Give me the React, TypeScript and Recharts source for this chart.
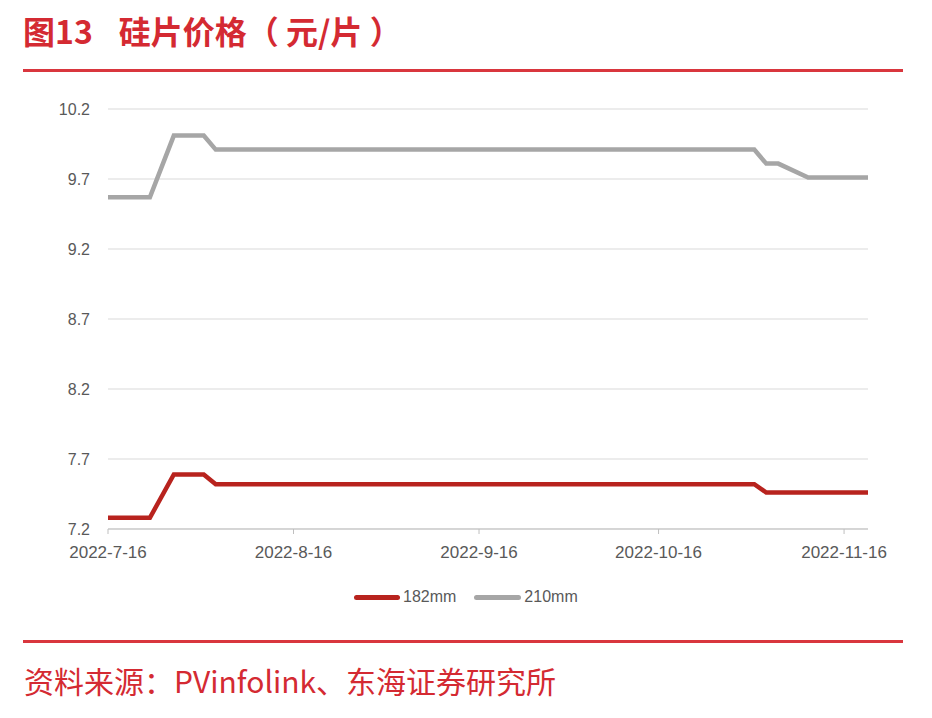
import React from "react";
import { LineChart, Line, XAxis, YAxis, CartesianGrid } from "recharts";

// 硅片价格（元/片），PVinfolink
const dates = [
  "2022-07-16",
  "2022-07-23",
  "2022-07-27",
  "2022-08-01",
  "2022-08-03",
  "2022-11-01",
  "2022-11-03",
  "2022-11-05",
  "2022-11-10",
  "2022-11-20",
];
const price182 = [7.28, 7.28, 7.59, 7.59, 7.52, 7.52, 7.46, 7.46, 7.46, 7.46];
const price210 = [9.57, 9.57, 10.01, 10.01, 9.91, 9.91, 9.81, 9.81, 9.71, 9.71];

const xTickDates = ["2022-07-16", "2022-08-16", "2022-09-16", "2022-10-16", "2022-11-16"];
const xTickLabels = ["2022-7-16", "2022-8-16", "2022-9-16", "2022-10-16", "2022-11-16"];
const yTicks = [7.2, 7.7, 8.2, 8.7, 9.2, 9.7, 10.2];

const RED = "#B8231E";
const GRAY = "#A6A6A6";
const TITLE_RED = "#D42A32";

const DAY = 24 * 3600 * 1000;
const start = Date.parse(dates[0]);
const toDay = (d: string) => Math.round((Date.parse(d) - start) / DAY);

const data = dates.map((d, i) => ({
  day: toDay(d),
  s182: price182[i],
  s210: price210[i],
}));

const xTicks = xTickDates.map(toDay);
const endDay = toDay(dates[dates.length - 1]);

export default function App() {
  const tickFont = { fontFamily: "'Liberation Sans', Arial, sans-serif", fill: "#595959" };
  return (
    <div
      style={{
        position: "absolute",
        left: 0,
        top: 0,
        width: 932,
        height: 718,
        background: "#fff",
        fontFamily: "'Noto Sans CJK SC', sans-serif",
      }}
    >
      <div
        style={{
          position: "absolute",
          left: 23,
          top: 7,
          fontSize: 32,
          fontWeight: 700,
          color: TITLE_RED,
          whiteSpace: "nowrap",
          lineHeight: "46px",
        }}
      >
        <span>图13</span>
        <span style={{ marginLeft: 26 }}>硅片价格（ 元/片 ）</span>
      </div>
      <div style={{ position: "absolute", left: 23, top: 69, width: 880, height: 3, background: "#D9363E" }} />

      <div style={{ position: "absolute", left: 0, top: 0 }}>
        <LineChart
          width={932}
          height={620}
          data={data}
          margin={{ top: 109, right: 64, bottom: 51, left: 28 }}
        >
          <CartesianGrid vertical={false} stroke="#D9D9D9" strokeWidth={1} />
          <XAxis
            dataKey="day"
            type="number"
            domain={[0, endDay]}
            ticks={xTicks}
            tickFormatter={(v: number) => xTickLabels[xTicks.indexOf(v)] ?? ""}
            height={40}
            stroke="#BFBFBF"
            tickSize={5}
            tickMargin={12}
            tick={{ ...tickFont, fontSize: 17 }}
            interval={0}
          />
          <YAxis
            type="number"
            domain={[7.2, 10.2]}
            ticks={yTicks}
            tickFormatter={(v: number) => v.toFixed(1)}
            width={80}
            axisLine={false}
            tickLine={false}
            tickSize={0}
            tickMargin={18}
            tick={{ ...tickFont, fontSize: 16 }}
          />
          <Line
            type="linear"
            dataKey="s182"
            name="182mm"
            stroke={RED}
            strokeWidth={4.5}
            dot={false}
            isAnimationActive={false}
          />
          <Line
            type="linear"
            dataKey="s210"
            name="210mm"
            stroke={GRAY}
            strokeWidth={4.5}
            dot={false}
            isAnimationActive={false}
          />
        </LineChart>
      </div>

      {/* legend */}
      <div
        style={{
          position: "absolute",
          top: 586,
          left: 354,
          display: "flex",
          alignItems: "center",
          fontFamily: "'Liberation Sans', Arial, sans-serif",
          fontSize: 16,
          color: "#595959",
          height: 22,
        }}
      >
        <span style={{ display: "inline-block", width: 46, height: 5, borderRadius: 3, background: RED }} />
        <span style={{ marginLeft: 3 }}>182mm</span>
        <span
          style={{ display: "inline-block", width: 47, height: 5, borderRadius: 3, background: GRAY, marginLeft: 18 }}
        />
        <span style={{ marginLeft: 3 }}>210mm</span>
      </div>

      <div style={{ position: "absolute", left: 23, top: 640, width: 880, height: 3, background: "#D9363E" }} />
      <div
        style={{
          position: "absolute",
          left: 24,
          top: 657,
          fontSize: 30,
          color: TITLE_RED,
          whiteSpace: "nowrap",
          lineHeight: "46px",
        }}
      >
        资料来源：PVinfolink、东海证券研究所
      </div>
    </div>
  );
}
